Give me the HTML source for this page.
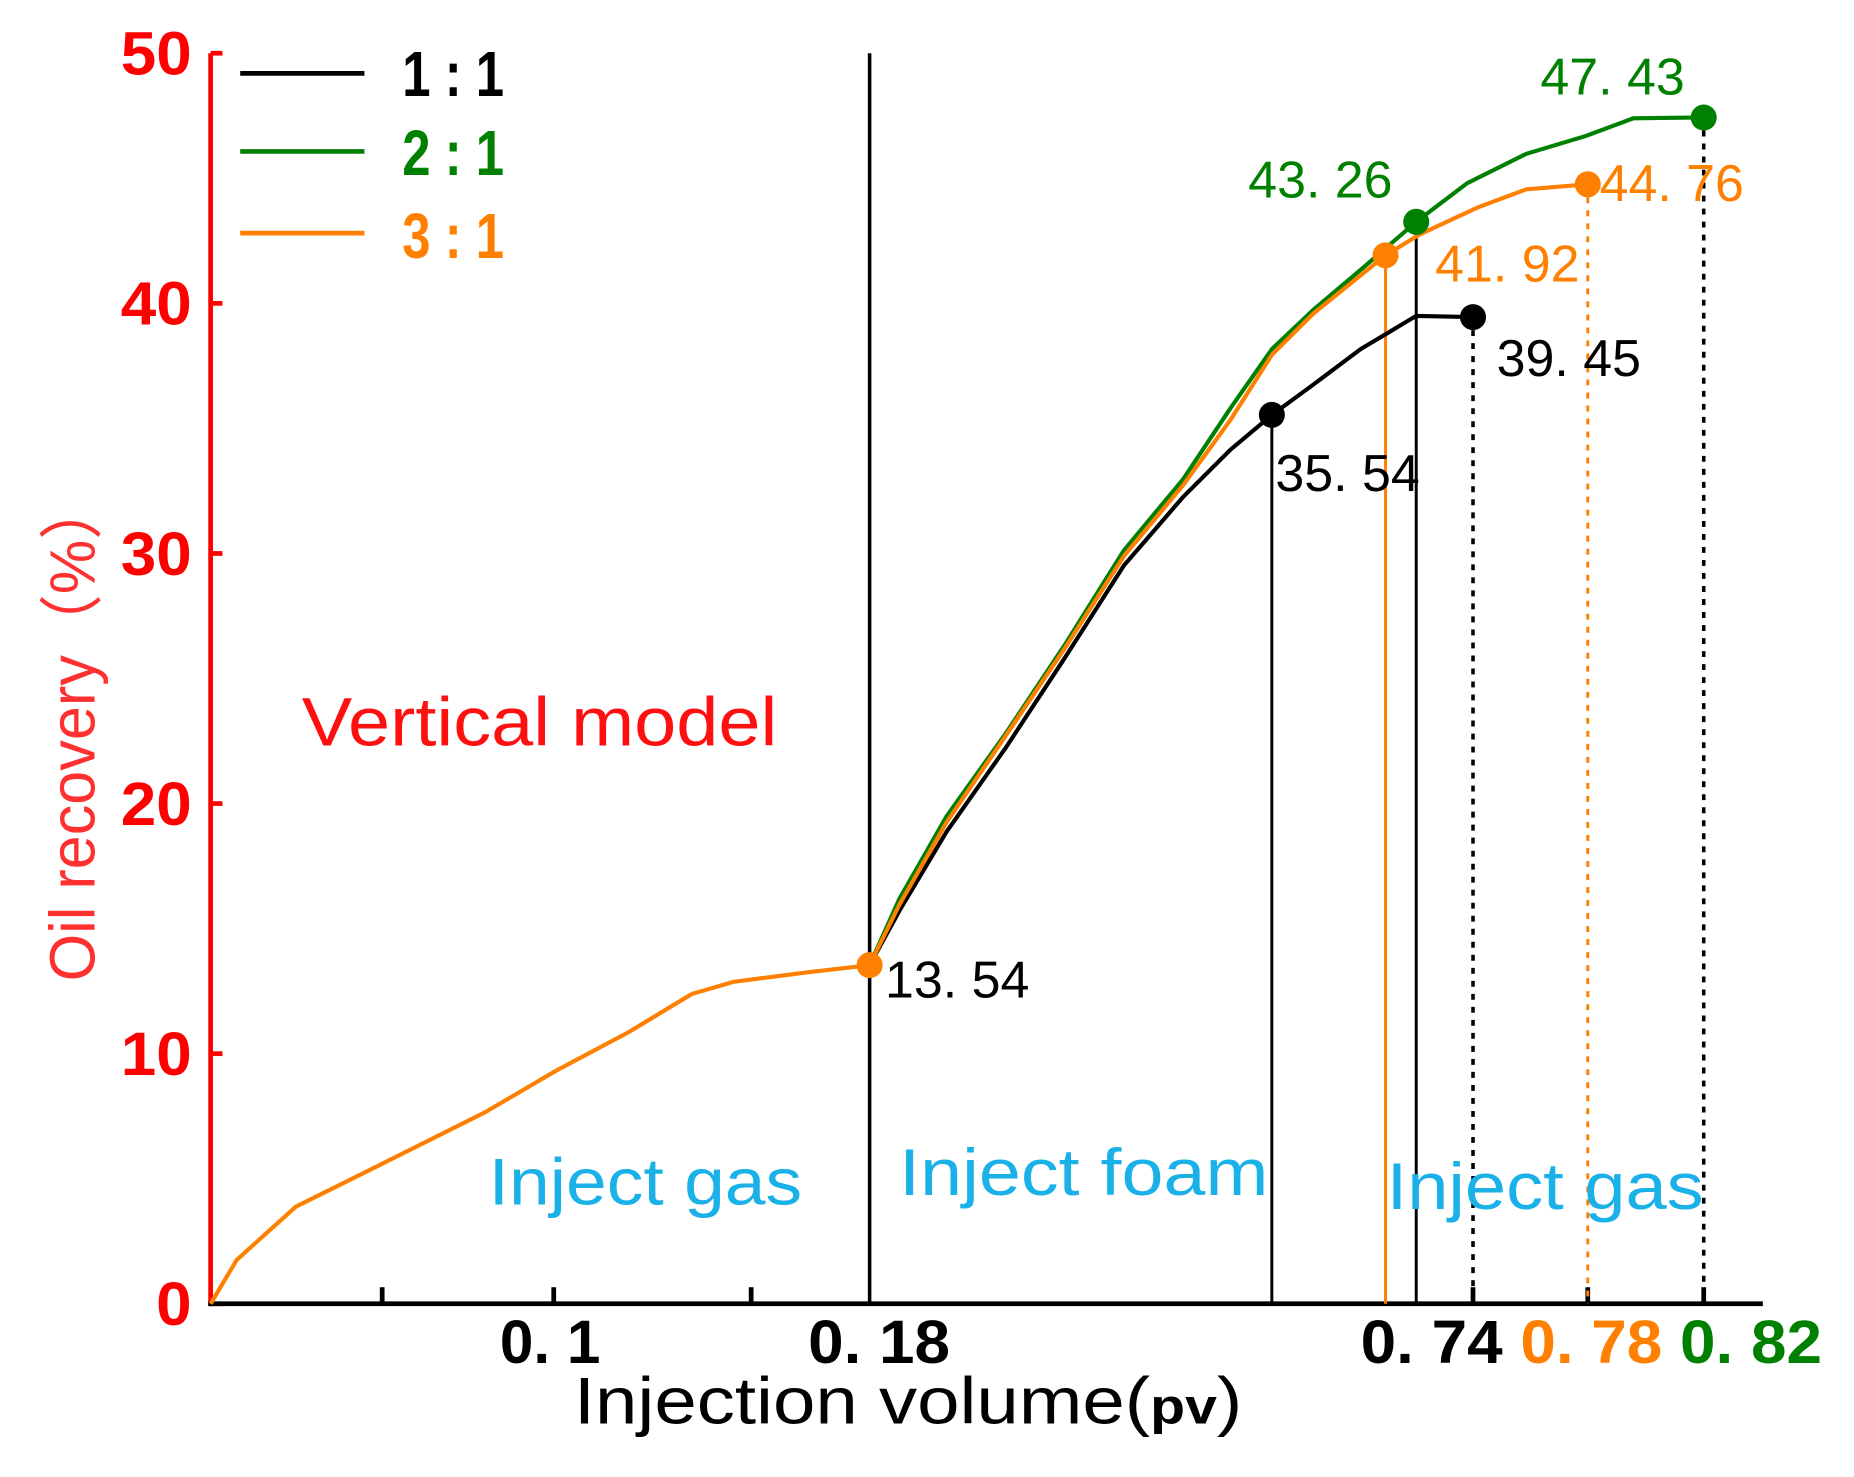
<!DOCTYPE html>
<html><head><meta charset="utf-8"><style>
html,body{margin:0;padding:0;background:#fff;}
svg{display:block;}
text{font-family:"Liberation Sans","Noto Sans CJK SC",sans-serif;}
</style></head><body>
<svg id="chart" width="1854" height="1477" viewBox="0 0 1567 1248.4" xmlns="http://www.w3.org/2000/svg">
<g id="axes"></g>
<g id="series"></g>
<g id="labels"></g>
<g>
<line x1="203" y1="62" x2="308" y2="62" stroke="#000" stroke-width="4"/>
<text x="340" y="81" font-size="54" font-weight="bold" textLength="86" lengthAdjust="spacingAndGlyphs" fill="#000">1 : 1</text>
<line x1="203" y1="128" x2="308" y2="128" stroke="#008000" stroke-width="4"/>
<text x="340" y="148" font-size="54" font-weight="bold" textLength="86" lengthAdjust="spacingAndGlyphs" fill="#008000">2 : 1</text>
<line x1="203" y1="197" x2="308" y2="197" stroke="#ff8000" stroke-width="4"/>
<text x="340" y="218" font-size="54" font-weight="bold" textLength="86" lengthAdjust="spacingAndGlyphs" fill="#ff8000">3 : 1</text>
</g>
<text transform="translate(80,617) rotate(-90)" text-anchor="middle" font-size="54" textLength="425" lengthAdjust="spacingAndGlyphs" fill="#ff3030">Oil recovery（%）</text>
<text x="255" y="630" font-size="58" textLength="402" lengthAdjust="spacingAndGlyphs" fill="#ff1010">Vertical model</text>
<text x="413" y="1018" font-size="56" textLength="265" lengthAdjust="spacingAndGlyphs" fill="#1ab0e8">Inject gas</text>
<text x="760" y="1010" font-size="56" textLength="312" lengthAdjust="spacingAndGlyphs" fill="#1ab0e8">Inject foam</text>
<text x="1172" y="1022" font-size="56" textLength="268" lengthAdjust="spacingAndGlyphs" fill="#1ab0e8">Inject gas</text>
<text x="485" y="1203" font-size="56" textLength="565" lengthAdjust="spacingAndGlyphs" fill="#000">Injection volume(<tspan font-weight="bold" font-size="42">pv</tspan>)</text>
</svg>
<script>
// ---- data ----
const sharedX = [0,0.0076,0.0248,0.049,0.08,0.1006,0.1186,0.135,0.1455,0.1635,0.18];
const sharedY = [0,1.75,3.88,5.53,7.66,9.32,10.83,12.39,12.87,13.24,13.54];
const greenX = [0.18,0.2075,0.2514,0.3063,0.3612,0.4161,0.4710,0.5149,0.5533,0.5918,0.6357,0.6873,0.7345,0.7586,0.7792,0.7957,0.82];
const greenY = [13.54,16.18,19.49,22.80,26.35,30.13,32.97,35.81,38.17,39.74,41.34,43.26,44.80,45.98,46.69,47.40,47.43];
const orangeX = [0.18,0.2075,0.2514,0.3063,0.3612,0.4161,0.4710,0.5149,0.5533,0.5918,0.6588,0.6906,0.742,0.7586,0.78];
const orangeY = [13.54,15.94,19.25,22.71,26.21,29.90,32.73,35.34,37.94,39.59,41.92,42.76,43.85,44.56,44.76];
const blackX = [0.18,0.2075,0.2514,0.3063,0.3612,0.4161,0.4710,0.5149,0.5533,0.5918,0.6357,0.6873,0.74];
const blackY = [13.54,15.70,18.87,22.23,25.83,29.52,32.26,34.15,35.54,36.75,38.17,39.50,39.45];
const yTicks = [0,10,20,30,40,50];
const markers = [
  {x:0.18,y:13.54,c:"#ff8000",label:"13. 54",lc:"#000",lx:748,ly:843},
  {x:0.5533,y:35.54,c:"#000",label:"35. 54",lc:"#000",lx:1078,ly:415},
  {x:0.74,y:39.45,c:"#000",label:"39. 45",lc:"#000",lx:1265,ly:318},
  {x:0.6588,y:41.92,c:"#ff8000",label:"41. 92",lc:"#ff8000",lx:1213,ly:238},
  {x:0.6873,y:43.26,c:"#008000",label:"43. 26",lc:"#008000",lx:1055,ly:167},
  {x:0.78,y:44.76,c:"#ff8000",label:"44. 76",lc:"#ff8000",lx:1352,ly:170},
  {x:0.82,y:47.43,c:"#008000",label:"47. 43",lc:"#008000",lx:1302,ly:80}
];
const xLabels = [["0. 1",0.1,"#000",465],["0. 18",0.18,"#000",743],["0. 74",0.74,"#000",1210],["0. 78",0.78,"#ff8000",1345],["0. 82",0.82,"#008000",1480]];
// ---- scales (piecewise, axis not to scale) ----
const xb=[0,0.1,0.18,0.74,0.78,0.82], xp=[178,468,735,1245,1342,1440];
function sx(v){for(let i=0;i<xb.length-1;i++){if(v<=xb[i+1]||i==xb.length-2){return xp[i]+(v-xb[i])/(xb[i+1]-xb[i])*(xp[i+1]-xp[i]);}}}
function sy(v){return 1102-v*21.14;}
const NS="http://www.w3.org/2000/svg";
function mk(p,tag,attrs){const e=document.createElementNS(NS,tag);for(const k in attrs)e.setAttribute(k,attrs[k]);p.appendChild(e);return e;}
const ax=document.getElementById('axes'),se=document.getElementById('series'),lb=document.getElementById('labels');
let e=mk(ax,'line',{x1:178,y1:45,x2:178,y2:1104,stroke:'#ff0000','stroke-width':4});


yTicks.forEach(t=>{
  let tk=mk(ax,'line',{x1:178,y1:sy(t),x2:188,y2:sy(t),stroke:'#ff0000','stroke-width':4});
  
  
  let tl=mk(ax,'text',{x:162,y:sy(t)+18,'text-anchor':'end','font-size':52,'font-weight':'bold',fill:'#ff0000',textLength:(t==0?30:60),lengthAdjust:'spacingAndGlyphs'});
  tl.textContent=t;
  
  
});
e=mk(ax,'line',{x1:176,y1:1102,x2:1490,y2:1102,stroke:'#000','stroke-width':4});


[0.05,0.1,0.15,0.74,0.78,0.82].forEach(t=>{
  let tk=mk(ax,'line',{x1:sx(t),y1:1102,x2:sx(t),y2:1088,stroke:'#000','stroke-width':4});
  
  
});
xLabels.forEach(l=>{
  let w=l[0].length>4?120:85;
  let tl=mk(ax,'text',{x:l[3],y:1152,'text-anchor':'middle','font-size':52,'font-weight':'bold',fill:l[2],textLength:w,lengthAdjust:'spacingAndGlyphs'});
  tl.textContent=l[0];
  
  
});
function vline(x,y,col,dash,w,name){
  let v=mk(se,'line',{x1:sx(x),y1:y==null?45:sy(y),x2:sx(x),y2:1102,stroke:col,'stroke-width':w});
  if(dash)v.setAttribute('stroke-dasharray',dash);
  
  
}
vline(0.18,null,'#000',null,3,'stage-divider-0.18');
vline(0.5533,35.54,'#000',null,2.5,'guide-1to1-foam-end');
vline(0.6588,41.92,'#ff8000',null,2.5,'guide-3to1-foam-end');
vline(0.6873,43.26,'#000',null,2.5,'guide-2to1-foam-end');
vline(0.74,39.45,'#000','5,6',3,'guide-1to1-end');
vline(0.78,44.76,'#ff8000','5,6',2.5,'guide-3to1-end');
vline(0.82,47.43,'#000','5,6',3,'guide-2to1-end');
function path(X,Y,col,name){
  let d=X.map((x,i)=>(i?'L':'M')+sx(x).toFixed(1)+' '+sy(Y[i]).toFixed(1)).join(' ');
  let p=mk(se,'path',{d:d,fill:'none',stroke:col,'stroke-width':3.5,'stroke-linejoin':'round'});
  
  
}
path(greenX,greenY,'#008000','line-2to1');
path(blackX,blackY,'#000','line-1to1');
path(orangeX,orangeY,'#ff8000','line-3to1');
path(sharedX,sharedY,'#ff8000','line-gas-stage');
markers.forEach(m=>{
  let c=mk(se,'circle',{cx:sx(m.x),cy:sy(m.y),r:11,fill:m.c});
  
  
  let t=mk(lb,'text',{x:m.lx,y:m.ly,'font-size':44,fill:m.lc,textLength:122,lengthAdjust:'spacingAndGlyphs'});
  t.textContent=m.label;
  
  
});
</script>
</body></html>
